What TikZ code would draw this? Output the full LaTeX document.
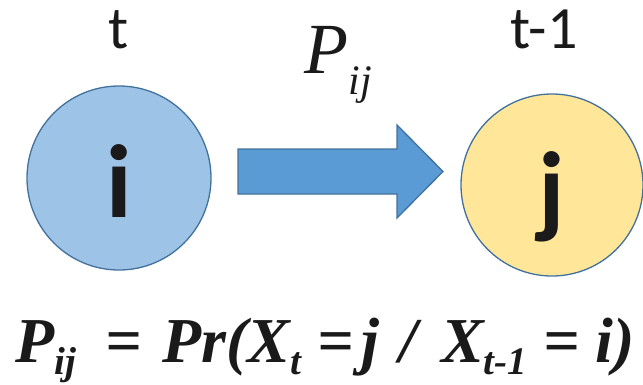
\documentclass[tikz,border=0pt]{standalone}
\usepackage{fontspec}
\setmainfont{Liberation Serif}
\newfontfamily\calib{Carlito}
\usetikzlibrary{positioning,calc}
\definecolor{stateblue}{HTML}{9DC3E6}
\definecolor{stateyellow}{HTML}{FFE699}
\definecolor{edgeblue}{HTML}{41719C}
\definecolor{arrowblue}{HTML}{5B9BD5}
\definecolor{inkblack}{HTML}{1A1A1A}
\newcommand{\lowsub}[3]{\raisebox{-#1em}{\fontsize{#2}{#2}\selectfont #3}}

\begin{document}
\begin{tikzpicture}[x=1pt,y=1pt,
  state/.style={circle,draw=edgeblue,line width=1.3pt,minimum size=184pt,inner sep=0pt,
    text height=78pt,text depth=0pt,
    text=inkblack,font=\calib\bfseries\fontsize{104}{104}\selectfont},
  timelabel/.style={text=inkblack,font=\calib\fontsize{60}{60}\selectfont,inner sep=0pt},
  bigarrow/.style={fill=arrowblue,draw=edgeblue,line width=1.3pt,line join=miter}]
\useasboundingbox (0,0) rectangle (643,384);
% states
\node[state,fill=stateblue]   (si) at (119,206) {i};
\node[state,fill=stateyellow,minimum size=182pt] (sj) at (552,199) {j};
\node[timelabel,anchor=base] (ti) at (119,335) {t};
\node[timelabel,anchor=base] (tj) at (544,335) {t-1};
% transition arrow
\coordinate (a0) at (238,212.5);
\coordinate (a1) at (443,212.5);
\draw[bigarrow] ($(a0)+(0,22.5)$) -- ++(159,0) -- ++(0,24) -- (a1)
  -- ++(-46,-46.5) -- ++(0,24) -- ($(a0)+(0,-22.5)$) -- cycle;
\node[anchor=base,inner sep=0pt,text=inkblack] (pij) at (338,311)
  {\fontsize{72}{72}\selectfont\itshape P\lowsub{0.3}{42}{ij}};
% definition
\node[anchor=base,inner sep=0pt,text=inkblack] (def) at (325,22)
  {\fontsize{64}{64}\selectfont\bfseries\itshape
   P\lowsub{0.2}{39}{ij}\hspace{30pt}=\hspace{20pt}Pr(X\lowsub{0.2}{39}{t}\hspace{16pt}=\hspace{8pt}j\hspace{20pt}/\hspace{24pt}X\lowsub{0.2}{39}{t-1}\hspace{16pt}=\hspace{16pt}i)};
\end{tikzpicture}
\end{document}
